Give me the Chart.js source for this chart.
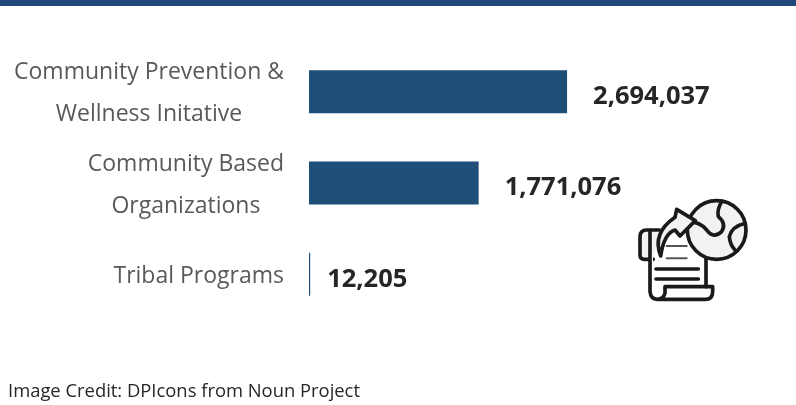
<!DOCTYPE html>
<html>
<head>
<meta charset="utf-8">
<script src="https://cdn.jsdelivr.net/npm/chart.js@4/dist/chart.umd.min.js"></script>
<style>
  html, body { margin: 0; padding: 0; background: #fff; width: 796px; height: 405px; overflow: hidden; }
  #wrap { position: relative; width: 796px; height: 405px; }
  #band { position: absolute; left: 0; top: 0; width: 796px; height: 6px; background: #1f497d; }
  #credit { position: absolute; left: 8px; top: 377px; font: 18.4px "Open Sans", sans-serif; color: #262626; white-space: nowrap; }
  #icon { position: absolute; left: 620px; top: 180px; }
  canvas { position: absolute; left: 0; top: 0; }
</style>
</head>
<body>
<div id="wrap">
  <canvas id="chart" width="796" height="405"></canvas>
  <div id="band"></div>
  <div id="credit">Image Credit: DPIcons from Noun Project</div>
  <svg id="icon" width="150" height="130" viewBox="0 0 450 390" fill="none" stroke="#1a1a1a" stroke-width="11" stroke-linecap="round" stroke-linejoin="round">
    <path d="M100 238 H74 Q60 238 60 225 V170 Q60 150 80 150 H118" fill="#f2f2f2"/>
    <path d="M90 155 V335 Q92 358 112 358 H255 Q278 358 278 335 V320 H135 V340 Q130 358 112 358" fill="#fff"/>
    <path d="M258 235 V320"/>
    <path d="M108 267 H235 M108 297 H235" stroke-width="11"/>
    <path d="M140 198 H200 M140 235 H200" stroke="#555" stroke-width="6"/>
    <circle cx="290" cy="150" r="88" fill="#f2f2f2"/>
    <path d="M305 65 Q290 90 295 110 Q320 130 305 155 Q280 178 260 150 Q240 125 205 125"/>
    <path d="M375 130 Q335 140 328 170 Q330 195 345 210"/>
    <path d="M122 228 Q95 160 165 112 L170 88 L226 122 L180 168 L165 150 Q132 160 122 228 Z" fill="#f2f2f2"/>
  </svg>
</div>
<script>
var categories = [
    ['Community Prevention &', 'Wellness Initative'],
    ['Community Based', 'Organizations'],
    ['Tribal Programs']
];
var values = [2694037, 1771076, 12205];

// category labels are centred per block, with the block's right edge on the axis
var categoryLabels = {
    id: 'categoryLabels',
    afterDraw: function(chart) {
        var ctx = chart.ctx, yScale = chart.scales.y;
        var lineHeight = 42, rightEdge = 284;
        ctx.save();
        ctx.font = '23px "Open Sans", sans-serif';
        ctx.fillStyle = '#595959';
        ctx.textAlign = 'center';
        ctx.textBaseline = 'middle';
        categories.forEach(function(lines, i) {
            var widest = Math.max.apply(null, lines.map(function(l) { return ctx.measureText(l).width; }));
            var cx = rightEdge - widest / 2;
            var y = yScale.getPixelForValue(i) + 2 - (lines.length - 1) * lineHeight / 2;
            lines.forEach(function(line, j) {
                ctx.fillText(line, cx, y + j * lineHeight);
            });
        });
        ctx.restore();
    }
};

var valueLabels = {
    id: 'valueLabels',
    afterDatasetsDraw: function(chart) {
        var ctx = chart.ctx, bars = chart.getDatasetMeta(0).data;
        ctx.save();
        ctx.font = 'bold 25.5px "Open Sans", sans-serif';
        ctx.fillStyle = '#262626';
        ctx.textAlign = 'left';
        ctx.textBaseline = 'middle';
        bars.forEach(function(bar, i) {
            var gap = bar.x - chart.chartArea.left < 5 ? 17 : 26;
            ctx.fillText(values[i].toLocaleString('en-US'), bar.x + gap, bar.y + 5);
        });
        ctx.restore();
    }
};

new Chart(document.getElementById('chart').getContext('2d'), {
    type: 'bar',
    data: {
        labels: categories,
        datasets: [{
            data: values,
            backgroundColor: '#1f4e79',
            barPercentage: 1,
            categoryPercentage: 0.47
        }]
    },
    options: {
        indexAxis: 'y',
        responsive: false,
        animation: false,
        layout: { padding: { left: 309, top: 46, bottom: 85, right: 0 } },
        plugins: { legend: { display: false }, tooltip: { enabled: false } },
        scales: {
            x: { display: false, min: 0, max: 5084000 },
            y: { display: false }
        }
    },
    plugins: [categoryLabels, valueLabels]
});
</script>
</body>
</html>
